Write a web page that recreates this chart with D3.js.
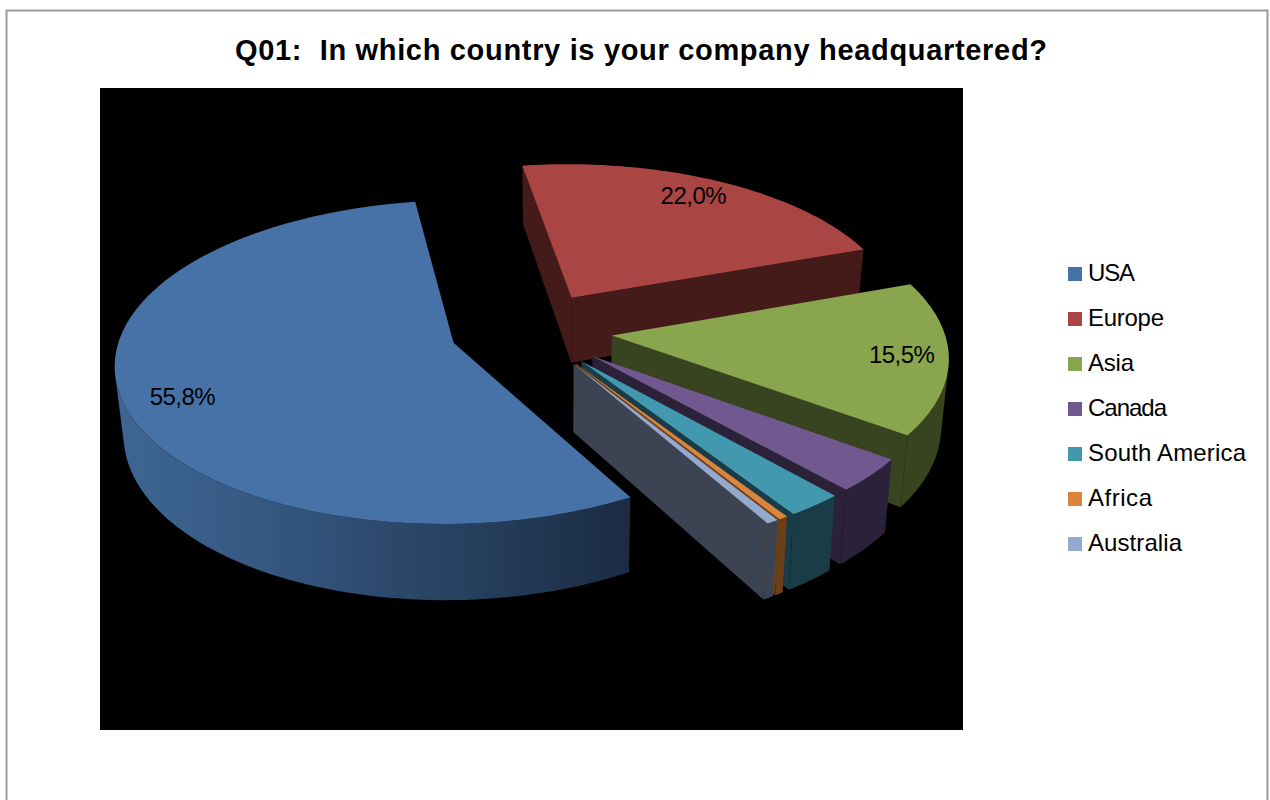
<!DOCTYPE html>
<html>
<head>
<meta charset="utf-8">
<script src="https://cdn.jsdelivr.net/npm/d3@7"></script>
<style>
html,body{margin:0;padding:0;background:#fff;overflow:hidden}
text{font-family:"Liberation Sans",Arial,sans-serif;fill:#000}
</style>
</head>
<body>
<svg id="chart" width="1270" height="800"></svg>
<script>
const titleText = "Q01:  In which country is your company headquartered?";
const regions = ["USA","Europe","Asia","Canada","South America","Africa","Australia"];
const shares = [55.8,22.0,15.5,3.4,2.4,0.4,0.5];
const topColors = ["#4672a8","#a94543","#89a54e","#71588f","#4198af","#db843c","#94a9ce"];
const wallColors = ["#2a4468","#451b1a","#38431f","#2b2138","#193c47","#6b4018","#3c4353"];
const usaRimStops = ["#3f6694","#365a84","#2d4b6f","#243c59","#1a2b42"];
const legendWidths = [47,76,46,79,158,64,94];

const svg = d3.select("#chart");

// page frame, plot background, title
svg.append("rect").attr("x",6.5).attr("y",10.5).attr("width",1261).attr("height",800)
  .attr("fill","#fff").attr("stroke","#9a9a9a").attr("stroke-width",2);
svg.append("rect").attr("x",100).attr("y",88).attr("width",863).attr("height",642).attr("fill","#000");
svg.append("text").attr("x",235).attr("y",60)
  .attr("font-size",29).attr("font-weight","bold").attr("xml:space","preserve")
  .attr("textLength",812).attr("lengthAdjust","spacing")
  .style("white-space","pre").text(titleText);

// perspective camera for the tilted, exploded pie
const cam = {cx:531, cy:330, a:332, b:156.5, k:0.118, h:66.5, vx:560, taper:0.02, explode:0.245};
const sx = d3.scaleLinear().domain([-1,1]).range([cam.cx-cam.a, cam.cx+cam.a]);
const sy = d3.scaleLinear().domain([-1,1]).range([cam.cy+cam.b, cam.cy-cam.b]);
function project(u,v,z){
  const w = 1 + cam.k*v;
  let x = sx(u/w), y = sy(v/w);
  if (z){ y += cam.h/w; x += (cam.vx-x)*cam.taper; }
  return [x,y];
}

const startDeg = 150.2;
const pie = d3.pie().sort(null)
  .startAngle(startDeg*Math.PI/180).endAngle((startDeg+360)*Math.PI/180);
const arcs = pie(shares).map((d,i)=>{
  const mid = (d.startAngle+d.endAngle)/2;
  return {...d, i, mid, ou:cam.explode*Math.sin(mid), ov:cam.explode*Math.cos(mid)};
});
const onRim = (s,t,r=1)=>[s.ou+r*Math.sin(t), s.ov+r*Math.cos(t)];
const line = d3.line();
const area2 = pts => d3.polygonArea(pts);

const defs = svg.append("defs");
const grad = defs.append("linearGradient").attr("id","usaRim")
  .attr("gradientUnits","userSpaceOnUse").attr("x1",115).attr("x2",630).attr("y1",0).attr("y2",0);
usaRimStops.forEach((c,i)=>grad.append("stop").attr("offset",i/(usaRimStops.length-1)).attr("stop-color",c));

const g = svg.append("g");
// far slices first so nearer ones overlap them
const order = [...arcs].sort((a,b)=>b.ov-a.ov);
order.forEach(s=>{
  const fill = s.i===0 ? "url(#usaRim)" : wallColors[s.i];
  const apexT = project(s.ou,s.ov,0), apexB = project(s.ou,s.ov,1);
  const steps = d3.range(0,121).map(j=>s.startAngle+(s.endAngle-s.startAngle)*j/120);
  const rimT = steps.map(t=>project(...onRim(s,t),0));
  const rimB = steps.map(t=>project(...onRim(s,t),1));
  const face = pts => { if (area2(pts)>0) g.append("path").attr("d",line(pts)+"Z").attr("fill",wallColors[s.i]); };
  face([apexT,rimT[0],rimB[0],apexB]);
  face([rimT[120],apexT,apexB,rimB[120]]);
  // outer wall: keep only the run of segments that faces the camera
  const keep = [];
  for(let j=0;j<120;j++){
    if (area2([rimT[j],rimT[j+1],rimB[j+1],rimB[j]])>0) keep.push(j,j+1);
  }
  if (keep.length){
    const lo=d3.min(keep), hi=d3.max(keep);
    const wall = rimT.slice(lo,hi+1).concat(rimB.slice(lo,hi+1).reverse());
    g.append("path").attr("d",line(wall)+"Z").attr("fill",fill);
  }
  g.append("path").attr("d",line([apexT,...rimT])+"Z").attr("fill",topColors[s.i]);
});

// value labels on the three large slices
const labelPlace = {0:[-0.065,0.835],1:[-0.02,0.85],2:[0,0.862]};
arcs.filter(s=>labelPlace[s.i]).forEach(s=>{
  const [da,r] = labelPlace[s.i];
  const p = project(...onRim(s,s.mid+da,r),0);
  g.append("text").attr("x",p[0]).attr("y",p[1]+8).attr("text-anchor","middle")
    .attr("font-size",24).attr("letter-spacing",-0.5)
    .text(d3.format(".1f")(s.value).replace(".",",")+"%");
});

// legend
const rowY = d3.scalePoint().domain(regions).range([274,544]);
const legend = svg.append("g").selectAll("g").data(regions).join("g")
  .attr("transform",d=>`translate(1068,${rowY(d)})`);
legend.append("rect").attr("y",-7).attr("width",14).attr("height",14)
  .attr("fill",(d,i)=>topColors[i]);
legend.append("text").attr("x",20).attr("y",7).attr("font-size",24)
  .attr("textLength",(d,i)=>legendWidths[i]).attr("lengthAdjust","spacing").text(d=>d);
</script>
</body>
</html>
